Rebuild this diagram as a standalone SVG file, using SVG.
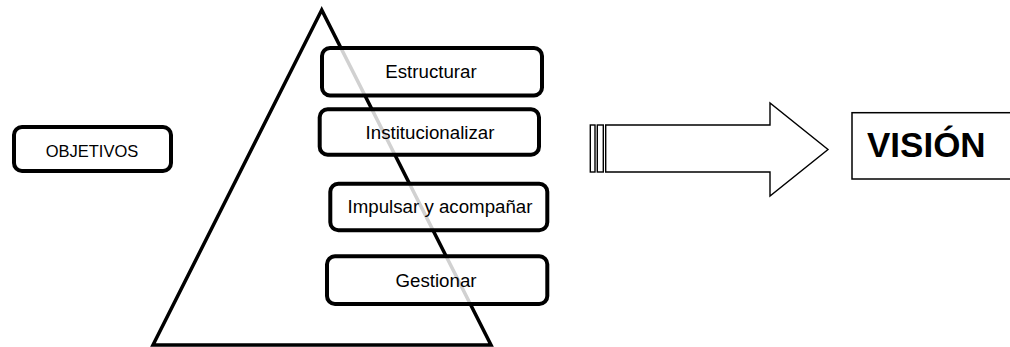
<svg xmlns="http://www.w3.org/2000/svg" width="1010" height="347" viewBox="0 0 1010 347">
  <style>
    .box { fill: #ffffff; fill-opacity: 0.82; stroke: #000000; stroke-width: 4; }
    .lbl { font-family: "Liberation Sans", Arial, sans-serif; font-size: 18.7px; fill: #000000; text-anchor: middle; }
    .thin { fill: #ffffff; stroke: #000000; stroke-width: 1.4; }
  </style>
  <rect x="0" y="0" width="1010" height="347" fill="#ffffff"/>
  <g id="pyramid">
    <polygon points="321.7,10 153,345 491,345" fill="none" stroke="#000000" stroke-width="3.5" stroke-linejoin="miter"/>
  </g>
  <g id="objetivos">
    <rect class="box" x="14" y="127" width="157" height="44" rx="8"/>
    <text class="lbl" x="92" y="157" style="font-size:16.5px">OBJETIVOS</text>
  </g>
  <g id="estructurar">
    <rect class="box" x="322" y="48" width="220" height="47.5" rx="8"/>
    <text class="lbl" x="431" y="78">Estructurar</text>
  </g>
  <g id="institucionalizar">
    <rect class="box" x="319.7" y="109.3" width="219.3" height="45.4" rx="8"/>
    <text class="lbl" x="430" y="139">Institucionalizar</text>
  </g>
  <g id="impulsar">
    <rect class="box" x="330.3" y="183.7" width="217" height="46.6" rx="8"/>
    <text class="lbl" x="440" y="213">Impulsar y acompañar</text>
  </g>
  <g id="gestionar">
    <rect class="box" x="327" y="256.3" width="220.3" height="47.7" rx="8"/>
    <text class="lbl" x="436" y="287">Gestionar</text>
  </g>
  <g id="connectors">
    <rect class="thin" x="590.3" y="125" width="4.7" height="47"/>
    <rect class="thin" x="597.3" y="125" width="6" height="47"/>
    <polygon class="thin" points="605.7,125 770,125 770,103 828,149.5 770,196 770,172 605.7,172"/>
  </g>
  <g id="vision">
    <rect x="852" y="112.7" width="200" height="66.3" fill="#ffffff" stroke="#000000" stroke-width="1.5"/>
    <text x="867" y="157" style="font-family:'Liberation Sans', Arial, sans-serif; font-size:35px; font-weight:bold; fill:#000000">VISIÓN</text>
  </g>
</svg>
